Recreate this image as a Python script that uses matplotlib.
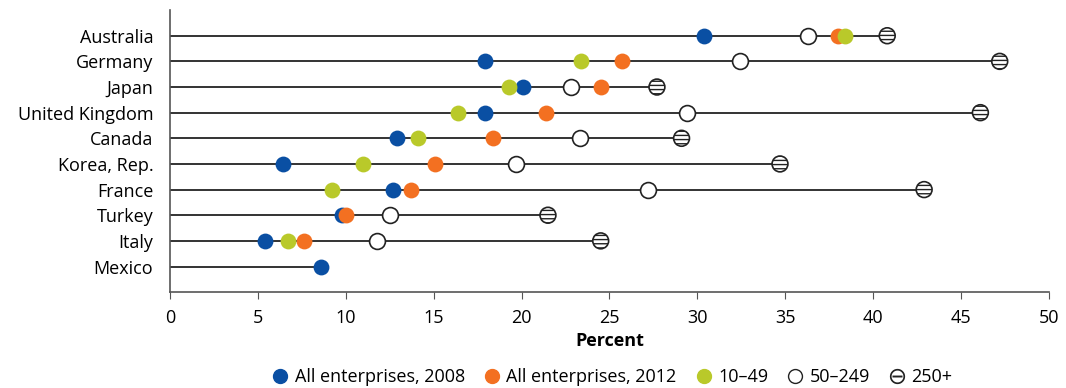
import numpy as np
import matplotlib
matplotlib.use("Agg")
import matplotlib.pyplot as plt
from matplotlib.lines import Line2D

plt.rcParams['font.family'] = ['Open Sans', 'DejaVu Sans']
plt.rcParams['hatch.linewidth'] = 1.0

countries = ["Australia", "Germany", "Japan", "United Kingdom", "Canada",
             "Korea, Rep.", "France", "Turkey", "Italy", "Mexico"]
nan = np.nan
all_2008 = [30.4, 17.9, 20.1, 17.9, 12.9, 6.4, 12.7, 9.8, 5.4, 8.6]
all_2012 = [38.0, 25.7, 24.5, 21.4, 18.4, 15.1, 13.7, 10.0, 7.6, nan]
size_10_49 = [38.4, 23.4, 19.3, 16.4, 14.1, 11.0, 9.2, nan, 6.7, nan]
size_50_249 = [36.3, 32.4, 22.8, 29.4, 23.3, 19.7, 27.2, 12.5, 11.8, nan]
size_250 = [40.8, 47.2, 27.7, 46.1, 29.1, 34.7, 42.9, 21.5, 24.5, nan]

BLUE = "#0a4fa3"
ORANGE = "#f37021"
GREEN = "#b9c92a"

fig = plt.figure(figsize=(10.66, 3.88), dpi=100)
ax = fig.add_axes([0.1595, 0.247, 0.8245, 0.727])

y = np.arange(len(countries))
ends = np.nanmax(np.vstack([all_2008, all_2012, size_10_49, size_50_249, size_250]), axis=0)
ax.hlines(y, 0, ends, color="#333333", lw=1.4, zorder=1)

s = 130
ax.scatter(all_2008, y, s=s, color=BLUE, lw=0, zorder=3)
ax.scatter(all_2012, y, s=s, color=ORANGE, lw=0, zorder=4)
ax.scatter(size_10_49, y, s=s, color=GREEN, lw=0, zorder=5)
ax.scatter(size_50_249, y, s=s, facecolor="white", edgecolor="#222222", lw=1.2, zorder=6)
ax.scatter(size_250, y, s=s, facecolor="white", edgecolor="#222222", lw=1.2,
           hatch="----", zorder=7)

ax.set_xlim(0, 50)
ax.set_ylim(len(countries), -1)
ax.set_xticks(range(0, 51, 5))
ax.set_yticks(y)
ax.set_yticklabels(countries)
ax.tick_params(axis="y", length=0, labelsize=13, pad=12)
ax.tick_params(axis="x", length=5, color="#555555", labelsize=13, pad=7)
for side in ["top", "right"]:
    ax.spines[side].set_visible(False)
for side in ["left", "bottom"]:
    ax.spines[side].set_color("#555555")
    ax.spines[side].set_linewidth(1.2)
ax.set_xlabel("Percent", fontsize=13, fontweight="bold", labelpad=4)

handles = [
    Line2D([], [], ls="", marker="o", ms=10, mfc=BLUE, mec=BLUE),
    Line2D([], [], ls="", marker="o", ms=10, mfc=ORANGE, mec=ORANGE),
    Line2D([], [], ls="", marker="o", ms=10, mfc=GREEN, mec=GREEN),
    Line2D([], [], ls="", marker="o", ms=10, mfc="white", mec="#222222"),
    Line2D([], [], ls="", marker=r"$\ominus$", ms=11, mfc="#222222", mec="#222222", mew=0),
]
labels = ["All enterprises, 2008", "All enterprises, 2012", "10\u201349", "50\u2013249", "250+"]
fig.legend(handles, labels, loc="center", bbox_to_anchor=(0.574, 0.028), ncol=5,
           frameon=False, fontsize=13, handletextpad=0.3, columnspacing=1.0,
           handlelength=1.0)

fig.savefig("out.png", dpi=100)
